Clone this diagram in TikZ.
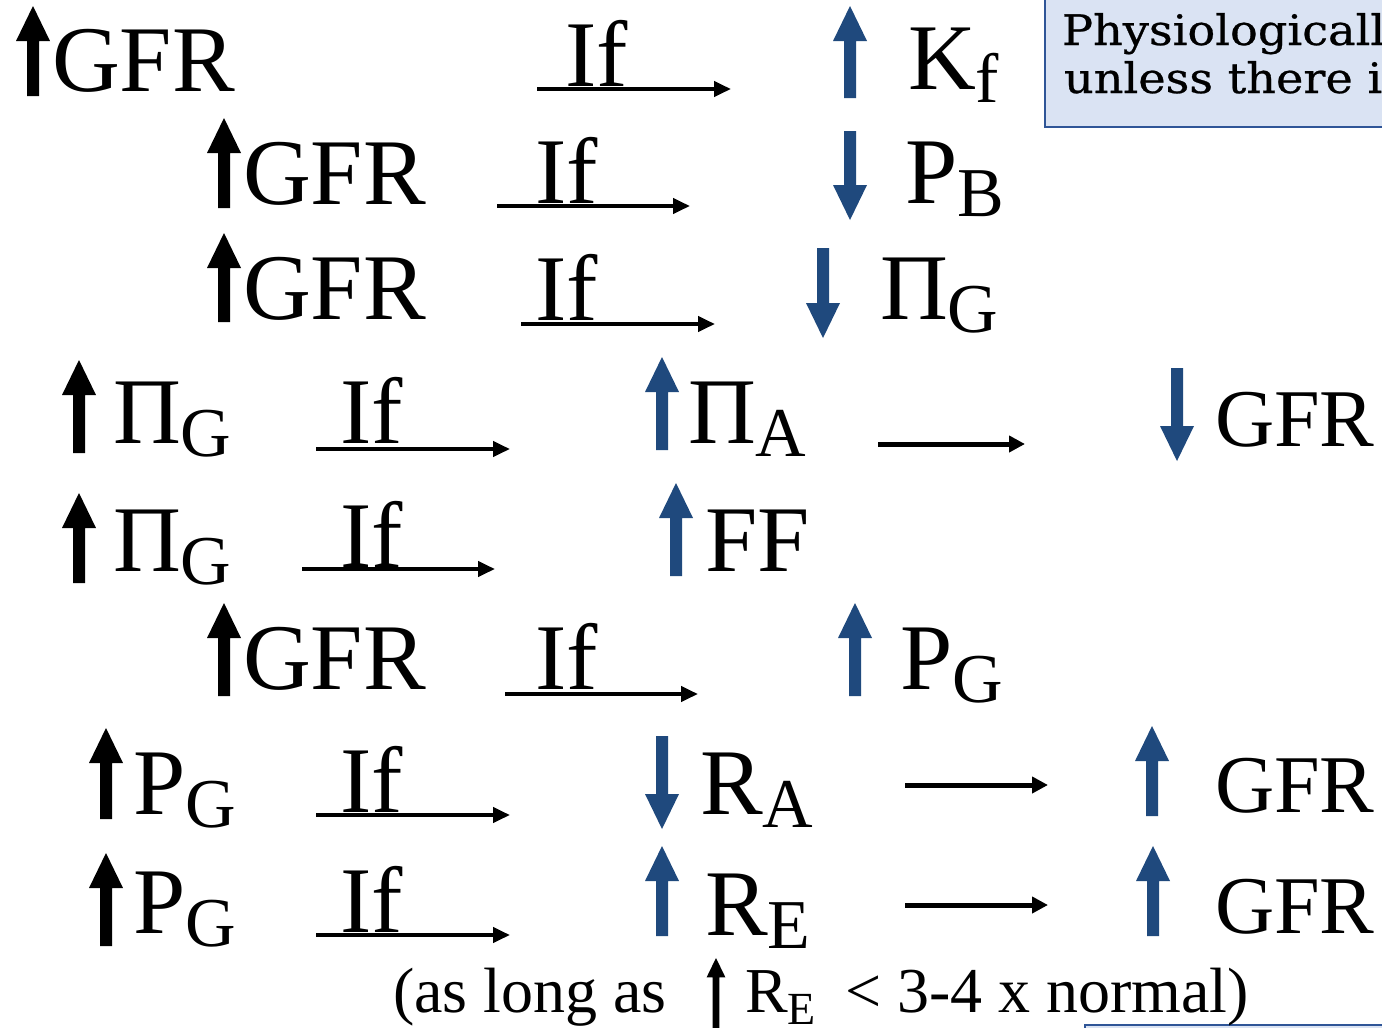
\documentclass[tikz,border=0pt]{standalone}
\usepackage{fontspec}
\usepackage{graphicx}
\setmainfont{Liberation Serif}
\newfontface\boxfont{DejaVu Serif}[FakeBold=0.6]
\usetikzlibrary{arrows.meta}
\definecolor{dblue}{HTML}{1F497D}
\definecolor{bxfill}{HTML}{DAE3F3}
\definecolor{bxline}{HTML}{2F5597}
\newcommand{\bigtxt}{\fontsize{94}{94}\selectfont}
\newcommand{\midtxt}{\fontsize{82}{82}\selectfont}
\newcommand{\smalltxt}{\fontsize{64}{64}\selectfont}
\newcommand{\sbs}[1]{\raisebox{-13pt}{\fontsize{70}{70}\selectfont #1}}
\newcommand{\sbsmall}[1]{\raisebox{-12pt}{\fontsize{46}{46}\selectfont #1}}
% style, x, tip y, tail y, scale
\newcommand{\blockarr}[5]{%
  \pgfmathsetmacro\bsg{(#4>#3)?1:-1}%
  \pgfmathsetmacro\bhy{#3+\bsg*35*#5}%
  \fill[#1] (#2,#3) -- (#2+17*#5,\bhy) -- (#2+6*#5,\bhy) -- (#2+6*#5,#4) -- (#2-6*#5,#4) -- (#2-6*#5,\bhy) -- (#2-17*#5,\bhy) -- cycle;}
\tikzset{
  txt/.style={anchor=base west, inner sep=0pt, outer sep=0pt, font=\bigtxt},
  rtxt/.style={anchor=base west, inner sep=0pt, outer sep=0pt, font=\midtxt},
  stxt/.style={anchor=base west, inner sep=0pt, outer sep=0pt, font=\smalltxt},
  btxt/.style={anchor=base west, inner sep=0pt, outer sep=0pt, font=\boxfont\fontsize{42}{42}\selectfont},
  ul/.style={line width=4pt, -{Triangle[length=17pt,width=15pt]}},
  rarr/.style={line width=5pt, -{Triangle[length=16pt,width=16pt]}},
  infobox/.style={fill=bxfill, draw=bxline, line width=2pt}
}
\begin{document}
\begin{tikzpicture}[x=1pt,y=-1pt]
\useasboundingbox (0,0) rectangle (1382,1028);
\clip (0,0) rectangle (1382,1028);
\fill[white] (0,0) rectangle (1382,1028);

% info box top right
\draw[infobox] (1045,-10) rectangle (1420,127);
\node[btxt] (bx1) at (1062,45) {\scalebox{1.1}[1]{Physiologically}};
\node[btxt] (bx2) at (1064,93) {\scalebox{1.1}[1]{unless there is}};
% second box bottom right
\draw[infobox] (1085,1025) rectangle (1420,1100);

% Row 1
\blockarr{black}{33}{6}{96}{1}
\node[txt] (gfr1) at (52,91) {GFR};
\node[txt] (if1) at (565,86) {If};
\coordinate (a1s) at (537,89); \coordinate (a1e) at (731,89);
\draw[ul] (a1s) -- (a1e);
\blockarr{dblue}{850}{6}{98}{1}
\node[txt] (kf) at (908,89) {K\sbs{f}};

% Row 2
\blockarr{black}{224}{118}{208}{1}
\node[txt] (gfr2) at (243,204) {GFR};
\node[txt] (if2) at (535,203) {If};
\coordinate (a2s) at (497,206); \coordinate (a2e) at (690,206);
\draw[ul] (a2s) -- (a2e);
\blockarr{dblue}{850}{220}{131}{1}
\node[txt] (pb) at (905,203) {P\sbs{B}};

% Row 3
\blockarr{black}{224}{233}{322}{1}
\node[txt] (gfr3) at (243,319) {GFR};
\node[txt] (if3) at (535,320) {If};
\coordinate (a3s) at (521,324); \coordinate (a3e) at (715,324);
\draw[ul] (a3s) -- (a3e);
\blockarr{dblue}{823}{338}{248}{1}
\node[txt] (pig1) at (880,319) {Π\sbs{G}};

% Row 4
\blockarr{black}{79}{360}{453}{1}
\node[txt] (pig2) at (113,443) {Π\sbs{G}};
\node[txt] (if4) at (340,443) {If};
\coordinate (a4s) at (316,449); \coordinate (a4e) at (510,449);
\draw[ul] (a4s) -- (a4e);
\blockarr{dblue}{662}{357}{450}{1}
\node[txt] (pia) at (688,443) {Π\sbs{A}};
\coordinate (b4s) at (878,444); \coordinate (b4e) at (1025,444);
\draw[rarr] (b4s) -- (b4e);
\blockarr{dblue}{1177}{461}{368}{1}
\node[rtxt] (gfr4) at (1215,446) {GFR};

% Row 5
\blockarr{black}{79}{493}{583}{1}
\node[txt] (pig3) at (113,571) {Π\sbs{G}};
\node[txt] (if5) at (340,567) {If};
\coordinate (a5s) at (302,569); \coordinate (a5e) at (495,569);
\draw[ul] (a5s) -- (a5e);
\blockarr{dblue}{676}{483}{576}{1}
\node[txt] (ff) at (705,571) {FF};

% Row 6
\blockarr{black}{224}{603}{696}{1}
\node[txt] (gfr6) at (243,689) {GFR};
\node[txt] (if6) at (535,689) {If};
\coordinate (a6s) at (505,694); \coordinate (a6e) at (698,694);
\draw[ul] (a6s) -- (a6e);
\blockarr{dblue}{855}{603}{696}{1}
\node[txt] (pg1) at (900,689) {P\sbs{G}};

% Row 7
\blockarr{black}{106}{728}{819}{1}
\node[txt] (pg2) at (133,814) {P\sbs{G}};
\node[txt] (if7) at (340,812) {If};
\coordinate (a7s) at (316,815); \coordinate (a7e) at (510,815);
\draw[ul] (a7s) -- (a7e);
\blockarr{dblue}{662}{829}{736}{1}
\node[txt] (ra) at (700,814) {R\sbs{A}};
\coordinate (b7s) at (905,785); \coordinate (b7e) at (1048,785);
\draw[rarr] (b7s) -- (b7e);
\blockarr{dblue}{1152}{726}{816}{1}
\node[rtxt] (gfr7) at (1215,812) {GFR};

% Row 8
\blockarr{black}{106}{853}{946}{1}
\node[txt] (pg3) at (133,933) {P\sbs{G}};
\node[txt] (if8) at (340,932) {If};
\coordinate (a8s) at (316,935); \coordinate (a8e) at (510,935);
\draw[ul] (a8s) -- (a8e);
\blockarr{dblue}{662}{846}{936}{1}
\node[txt] (re) at (705,935) {R\sbs{E}};
\coordinate (b8s) at (905,905); \coordinate (b8e) at (1048,905);
\draw[rarr] (b8s) -- (b8e);
\blockarr{dblue}{1153}{846}{936}{1}
\node[rtxt] (gfr8) at (1215,933) {GFR};

% Bottom note
\node[stxt] (note1) at (393,1012) {(as long as};
\blockarr{black}{716}{958}{1032}{0.55}
\node[stxt] (note2) at (745,1012) {R\sbsmall{E}};
\node[stxt] (note3) at (845,1012) {< 3-4 x normal)};
\end{tikzpicture}
\end{document}
